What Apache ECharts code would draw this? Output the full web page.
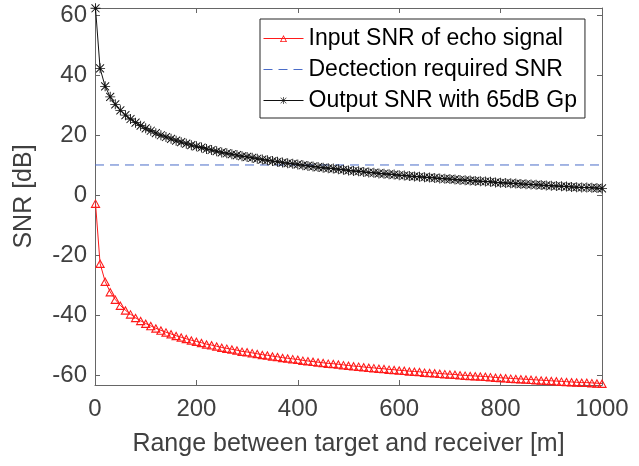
<!DOCTYPE html>
<html>
<head>
<meta charset="utf-8">
<script src="https://cdn.jsdelivr.net/npm/echarts@6/dist/echarts.min.js"></script>
<style>
  html, body { margin: 0; padding: 0; background: #fff; }
  #chart { width: 639px; height: 466px; }
</style>
</head>
<body>
<div id="chart"></div>
<script>
// range samples [m]
const range_list = [1, 10, 20, 30, 40, 50, 60, 70, 80, 90, 100,
  110, 120, 130, 140, 150, 160, 170, 180, 190, 200,
  210, 220, 230, 240, 250, 260, 270, 280, 290, 300,
  310, 320, 330, 340, 350, 360, 370, 380, 390, 400,
  410, 420, 430, 440, 450, 460, 470, 480, 490, 500,
  510, 520, 530, 540, 550, 560, 570, 580, 590, 600,
  610, 620, 630, 640, 650, 660, 670, 680, 690, 700,
  710, 720, 730, 740, 750, 760, 770, 780, 790, 800,
  810, 820, 830, 840, 850, 860, 870, 880, 890, 900,
  910, 920, 930, 940, 950, 960, 970, 980, 990, 1000]

// input SNR of echo signal [dB]
const input_snr = [-2.8, -22.8, -28.8, -32.3, -34.8, -36.8, -38.4, -39.7, -40.9, -41.9, -42.8,
  -43.6, -44.4, -45.1, -45.7, -46.3, -46.9, -47.4, -47.9, -48.4, -48.8,
  -49.2, -49.7, -50.0, -50.4, -50.8, -51.1, -51.4, -51.7, -52.1, -52.3,
  -52.6, -52.9, -53.2, -53.4, -53.7, -53.9, -54.2, -54.4, -54.6, -54.8,
  -55.1, -55.3, -55.5, -55.7, -55.9, -56.1, -56.2, -56.4, -56.6, -56.8,
  -57.0, -57.1, -57.3, -57.5, -57.6, -57.8, -57.9, -58.1, -58.2, -58.4,
  -58.5, -58.7, -58.8, -58.9, -59.1, -59.2, -59.3, -59.5, -59.6, -59.7,
  -59.8, -60.0, -60.1, -60.2, -60.3, -60.4, -60.5, -60.6, -60.8, -60.9,
  -61.0, -61.1, -61.2, -61.3, -61.4, -61.5, -61.6, -61.7, -61.8, -61.9,
  -62.0, -62.1, -62.2, -62.3, -62.4, -62.5, -62.5, -62.6, -62.7, -62.8]

// output SNR with 65dB Gp [dB]
const output_snr = [62.2, 42.2, 36.2, 32.7, 30.2, 28.2, 26.6, 25.3, 24.1, 23.1, 22.2,
  21.4, 20.6, 19.9, 19.3, 18.7, 18.1, 17.6, 17.1, 16.6, 16.2,
  15.8, 15.3, 15.0, 14.6, 14.2, 13.9, 13.6, 13.3, 12.9, 12.7,
  12.4, 12.1, 11.8, 11.6, 11.3, 11.1, 10.8, 10.6, 10.4, 10.2,
  9.9, 9.7, 9.5, 9.3, 9.1, 8.9, 8.8, 8.6, 8.4, 8.2,
  8.0, 7.9, 7.7, 7.5, 7.4, 7.2, 7.1, 6.9, 6.8, 6.6,
  6.5, 6.3, 6.2, 6.1, 5.9, 5.8, 5.7, 5.5, 5.4, 5.3,
  5.2, 5.0, 4.9, 4.8, 4.7, 4.6, 4.5, 4.4, 4.2, 4.1,
  4.0, 3.9, 3.8, 3.7, 3.6, 3.5, 3.4, 3.3, 3.2, 3.1,
  3.0, 2.9, 2.8, 2.7, 2.6, 2.5, 2.5, 2.4, 2.3, 2.2]

// detection threshold line
const required_x = [0, 1000]
const required_snr = [10, 10]

const series_names = ['Input SNR of echo signal', 'Dectection required SNR', 'Output SNR with 65dB Gp']

const toPairs = (xs, ys) => xs.map((x, i) => [x, ys[i]])

const triangleSymbol = 'path://M10 0 L20 18 L0 18 Z M10 4.4 L3.8 15.6 L16.2 15.6 Z'
const starSymbol = 'path://M9.1 0 h1.8 v20 h-1.8 Z M0 9.1 h20 v1.8 h-20 Z ' +
  'M1.4 2.7 L2.7 1.4 L18.6 17.3 L17.3 18.6 Z M17.3 1.4 L18.6 2.7 L2.7 18.6 L1.4 17.3 Z'

const fontFamily = '"Liberation Sans", Arial, sans-serif'
const axisColor = '#666'
const textColor = '#404040'

const chart = echarts.init(document.getElementById('chart'))
const option = {
  animation: false,
  backgroundColor: '#fff',
  textStyle: { fontFamily: fontFamily },
  grid: { left: 95, right: 37, top: 8, bottom: 81 },
  legend: {
    orient: 'vertical',
    left: 260,
    top: 19,
    padding: [8, 8, 6, 3],
    itemWidth: 40,
    itemHeight: 9,
    itemGap: 8,
    backgroundColor: '#fff',
    borderColor: '#262626',
    borderWidth: 1,
    borderRadius: 0,
    lineStyle: { width: 1 },
    textStyle: { fontSize: 23, color: '#000', fontFamily: fontFamily },
    data: [
      { name: series_names[0] },
      { name: series_names[1], itemStyle: { opacity: 0 } },
      { name: series_names[2] }
    ]
  },
  xAxis: [
    {
      type: 'value',
      min: 0,
      max: 1000,
      splitNumber: 5,
      name: 'Range between target and receiver [m]',
      nameLocation: 'middle',
      nameGap: 47,
      nameTextStyle: { fontSize: 25, color: textColor },
      axisLine: { onZero: false, lineStyle: { color: axisColor } },
      axisTick: { inside: true, length: 5, lineStyle: { color: axisColor } },
      axisLabel: { fontSize: 24, color: textColor, margin: 12, formatter: v => String(v) },
      splitLine: { show: false }
    },
    {
      type: 'value',
      position: 'top',
      min: 0,
      max: 1000,
      splitNumber: 5,
      axisLine: { show: true, onZero: false, lineStyle: { color: axisColor } },
      axisTick: { show: true, inside: true, length: 5, lineStyle: { color: axisColor } },
      axisLabel: { show: false },
      splitLine: { show: false }
    }
  ],
  yAxis: [
    {
      type: 'value',
      min: -63.3,
      max: 62.3,
      splitNumber: 6,
      name: 'SNR [dB]',
      nameLocation: 'middle',
      nameGap: 58,
      nameTextStyle: { fontSize: 25, color: textColor },
      axisLine: { show: true, onZero: false, lineStyle: { color: axisColor } },
      axisTick: { show: true, inside: true, length: 5, lineStyle: { color: axisColor } },
      axisLabel: {
        fontSize: 24, color: textColor, margin: 8,
        formatter: v => (Math.abs(v % 20) < 1e-6 ? String(v) : '')
      },
      splitLine: { show: false }
    },
    {
      type: 'value',
      position: 'right',
      min: -63.3,
      max: 62.3,
      splitNumber: 6,
      axisLine: { show: true, onZero: false, lineStyle: { color: axisColor } },
      axisTick: { show: true, inside: true, length: 5, lineStyle: { color: axisColor } },
      axisLabel: { show: false },
      splitLine: { show: false }
    }
  ],
  series: [
    {
      name: series_names[0],
      type: 'line',
      data: toPairs(range_list, input_snr),
      symbol: triangleSymbol,
      symbolSize: [10, 9],
      showAllSymbol: true,
      itemStyle: { color: '#ff1a1a' },
      lineStyle: { color: '#ff1a1a', width: 1 },
      z: 3
    },
    {
      name: series_names[1],
      type: 'line',
      data: toPairs(required_x, required_snr),
      symbol: 'none',
      itemStyle: { color: '#4a6cc8' },
      lineStyle: { color: '#4a6cc8', width: 1, type: [9, 6] },
      z: 2
    },
    {
      name: series_names[2],
      type: 'line',
      data: toPairs(range_list, output_snr),
      symbol: starSymbol,
      symbolSize: 10,
      showAllSymbol: true,
      itemStyle: { color: '#111' },
      lineStyle: { color: '#111', width: 1 },
      z: 4
    }
  ]
}
option && chart.setOption(option)
</script>
</body>
</html>
